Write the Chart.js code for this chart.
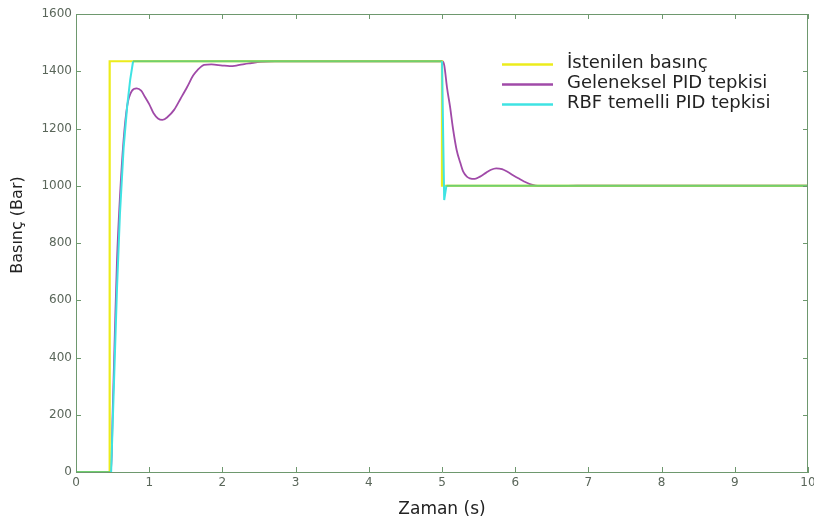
<!DOCTYPE html>
<html><head><meta charset="utf-8">
<script src="https://cdn.jsdelivr.net/npm/chart.js@4"></script>
<style>html,body{margin:0;padding:0;background:#fff}#wrap{width:814px;height:522px}</style>
</head><body><div id="wrap"><canvas id="c" width="814" height="522"></canvas></div>
<script>
// ---- data ----
const xTicks = [0,1,2,3,4,5,6,7,8,9,10];
const yTicks = [0,200,400,600,800,1000,1200,1400,1600];
const seriesLabels = ['İstenilen basınç','Geleneksel PID tepkisi','RBF temelli PID tepkisi'];
const xTitle = 'Zaman (s)';
const yTitle = 'Basınç (Bar)';

// desired pressure (setpoint)
const refT = [0, 0.46, 0.46, 5.0, 5.0, 10];
const refP = [0, 0, 1435, 1435, 1000, 1000];

// conventional PID response
const pidT = [0,0.48,0.50,0.53,0.56,0.60,0.65,0.70,0.76,0.83,0.89,0.94,1.00,1.06,1.12,1.18,1.25,1.34,1.43,1.52,1.60,1.66,1.75,1.85,2.00,2.10,2.19,2.30,2.38,2.52,2.72,5.00,5.03,5.07,5.11,5.15,5.20,5.25,5.29,5.34,5.38,5.45,5.52,5.60,5.67,5.74,5.82,5.90,5.97,6.05,6.12,6.20,6.34,6.60,6.84,10];
const pidP = [0,0,200,480,740,960,1160,1280,1330,1340,1332,1311,1285,1253,1235,1230,1240,1265,1305,1346,1385,1404,1422,1424,1420,1418,1420,1425,1428,1433,1435,1435,1422,1340,1276,1200,1125,1080,1049,1032,1026,1024,1032,1045,1056,1061,1058,1048,1037,1025,1015,1006,999,999,1000,1000];

// RBF-based PID response
const rbfT = [0,0.48,0.52,0.56,0.60,0.65,0.70,0.74,0.78,5.00,5.03,5.06,10];
const rbfP = [0,0,320,640,900,1130,1280,1370,1435,1435,950,1000,1000];

// ---- styles ----
const C_REF = '#ecec1c', C_PID = '#a04aa8', C_RBF = '#3fe3e3', C_OVER = '#6fcf6f';
const AXIS = '#6e986e', TICKTXT = '#5a665a';
const FONT = 'DejaVu Sans';

function pts(t, v){ return t.map((x,i)=>({x:x, y:v[i]})); }

const boxTicks = {
  id:'boxTicks',
  afterDatasetsDraw(chart){
    const {ctx, chartArea:a, scales:{x, y}} = chart;
    ctx.save();
    ctx.strokeStyle = AXIS; ctx.lineWidth = 1;
    ctx.beginPath();
    ctx.moveTo(a.left, a.top+0.5); ctx.lineTo(a.right, a.top+0.5);
    ctx.moveTo(a.right-0.5, a.top); ctx.lineTo(a.right-0.5, a.bottom);
    const L = 5;
    x.ticks.forEach(t=>{
      const px = Math.round(x.getPixelForValue(t.value))+0.5;
      ctx.moveTo(px, a.bottom); ctx.lineTo(px, a.bottom-L);
      ctx.moveTo(px, a.top); ctx.lineTo(px, a.top+L);
    });
    y.ticks.forEach(t=>{
      const py = Math.round(y.getPixelForValue(t.value))+0.5;
      ctx.moveTo(a.left, py); ctx.lineTo(a.left+L, py);
      ctx.moveTo(a.right, py); ctx.lineTo(a.right-L, py);
    });
    ctx.stroke();
    ctx.restore();
  }
};

const boxLegend = {
  id:'boxLegend',
  afterDraw(chart){
    const {ctx, chartArea:a} = chart;
    const cols = [C_REF, C_PID, C_RBF];
    ctx.save();
    ctx.font = '18px "' + FONT + '"';
    ctx.textBaseline = 'middle';
    ctx.fillStyle = '#222';
    chart.data.datasets.forEach((ds,i)=>{
      const yy = a.top + 49 + i*20;
      ctx.strokeStyle = cols[i]; ctx.lineWidth = 2.5;
      ctx.beginPath(); ctx.moveTo(a.left+426, yy+1.5); ctx.lineTo(a.left+477, yy+1.5); ctx.stroke();
      ctx.fillText(ds.label, a.left+491, yy);
    });
    // y-axis title
    ctx.font = '16px "' + FONT + '"';
    ctx.textAlign = 'center';
    ctx.translate(18, 225);
    ctx.rotate(-Math.PI/2);
    ctx.fillText(yTitle, 0, 0);
    ctx.restore();
  }
};

Chart.defaults.font.family = FONT;
new Chart(document.getElementById('c'), {
  type:'line',
  data:{
    datasets:[
      {label:seriesLabels[0], data:pts(refT, refP), borderColor:C_REF, borderWidth:2.2, pointRadius:0, order:1},
      {label:seriesLabels[1], data:pts(pidT, pidP), borderColor:C_PID, borderWidth:1.8, pointRadius:0, cubicInterpolationMode:'monotone', order:2},
      {label:seriesLabels[2], data:pts(rbfT, rbfP), borderColor:C_RBF, borderWidth:2, pointRadius:0, order:0,
        segment:{borderColor: c => (c.p0.parsed.y === c.p1.parsed.y ? C_OVER : C_RBF)}}
    ]
  },
  options:{
    responsive:false, animation:false,
    layout:{padding:{top:14, right:6, left:0, bottom:0}},
    plugins:{legend:{display:false}, tooltip:{enabled:false}},
    scales:{
      x:{type:'linear', min:0, max:10,
        afterBuildTicks: s => { s.ticks = xTicks.map(v=>({value:v})); },
        afterFit: s => { s.height = 50; s.paddingLeft = 0; s.paddingRight = 0; },
        grid:{display:false, drawTicks:false},
        border:{display:true, color:AXIS, width:1},
        ticks:{color:TICKTXT, font:{size:12}, padding:4, maxRotation:0, autoSkip:false, callback: v => String(v)},
        title:{display:true, text:xTitle, color:'#222', font:{size:17}, padding:{top:0, bottom:2}}
      },
      y:{type:'linear', min:0, max:1600,
        afterBuildTicks: s => { s.ticks = yTicks.map(v=>({value:v})); },
        afterFit: s => { s.width = 76; s.paddingTop = 0; s.paddingBottom = 0; },
        grid:{display:false, drawTicks:false},
        border:{display:true, color:AXIS, width:1},
        ticks:{color:TICKTXT, font:{size:12}, padding:4, autoSkip:false, callback: v => String(v)},
        title:{display:false, text:yTitle}
      }
    }
  },
  plugins:[boxTicks, boxLegend]
});
</script></body></html>
